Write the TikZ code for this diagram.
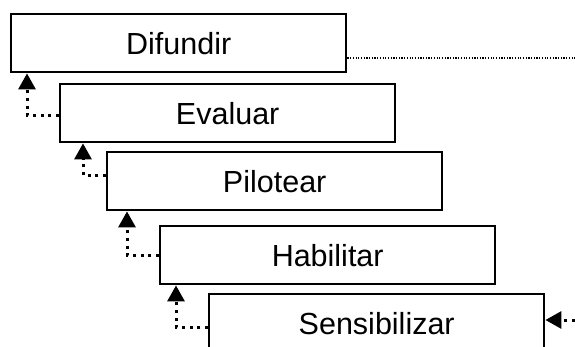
\documentclass[tikz,border=0pt]{standalone}
\usepackage{fontspec}
\setmainfont{Liberation Sans}
\usetikzlibrary{arrows.meta}

\tikzset{
	stage/.style={draw, line width=2.4pt, anchor=north west, inner sep=0pt,
		minimum width=\bw, minimum height=\bh, font=\fontsize{30.5}{36}\selectfont},
	link/.style={line width=3pt, dash pattern=on 3pt off 4.7pt, -{Triangle[length=16pt, width=17pt]}},
	trail/.style={line width=1.2pt, dash pattern=on 1.2pt off 1.5pt}
}

\begin{document}
\begin{tikzpicture}[x=1pt, y=-1pt]

\def\width{575}
\def\height{347}
\def\bw{335pt}
\def\bh{58pt}

\path [use as bounding box] (0,0) rectangle (\width,\height);

% STAGES
\node [stage] (difundir) at (10,13) {Difundir};
\node [stage] (evaluar) at (59,83) {Evaluar};
\node [stage] (pilotear) at (106,151) {Pilotear};
\node [stage] (habilitar) at (159,225) {Habilitar};
\node [stage] (sensibilizar) at (208,293) {Sensibilizar};

% FEEDBACK
\draw [link] ([yshift=-2pt]evaluar.west) -| ([xshift=17pt]difundir.south west);
\draw [link] ([yshift=6pt]pilotear.west) -| ([xshift=24pt]evaluar.south west);
\draw [link] (habilitar.west) -| ([xshift=21pt]pilotear.south west);
\draw [link] ([yshift=-4pt]sensibilizar.west) -| ([xshift=17pt]habilitar.south west);

% IN / OUT
\coordinate (inlet) at (\width,320);
\coordinate (outlet) at (\width,58);
\draw [link] (inlet) -- (sensibilizar.east |- inlet);
\draw [trail] (difundir.east |- outlet) -- (outlet);

\end{tikzpicture}
\end{document}
